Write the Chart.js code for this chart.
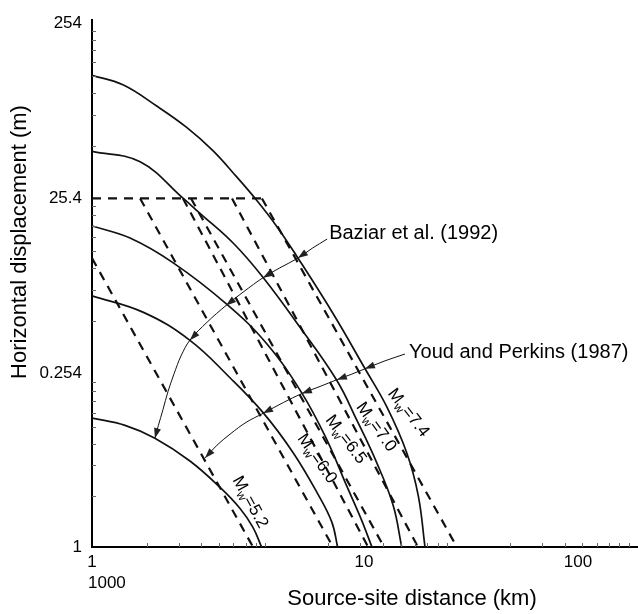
<!DOCTYPE html>
<html>
<head>
<meta charset="utf-8">
<script src="https://cdn.jsdelivr.net/npm/chart.js@4.4.0/dist/chart.umd.min.js"></script>
<style>
  html, body { margin: 0; padding: 0; background: #fff; }
</style>
</head>
<body>
<canvas id="chart" width="638" height="614"></canvas>
<script>
// axes: source-site distance (km), horizontal displacement (m), both log
const xMin = 1, xMax = 1000;
const yMin = 0.261, yMax = 264;
const xTickVals = [1, 31.4, 473];
const xTickLabels = ['1', '10', '100'];
const yTickVals = [0.261, 2.54, 25.4, 254];
const yTickLabels = ['1', '0.254', '25.4', '254'];

// Baziar et al. (1992) curves, one per magnitude
const mw74X = [1, 1.48, 2.27, 3.32, 4.63, 6.26, 8.06, 10.4, 13.4, 21.3, 31.8, 41.9, 54.0, 62.5, 68.1];
const mw74Y = [128, 113, 85.5, 64.6, 47.6, 33.7, 24.8, 17.6, 11.9, 5.57, 2.72, 1.65, 0.901, 0.513, 0.26];
const mw70X = [1, 1.84, 3.18, 3.93, 6.00, 8.77, 13.96, 22.2, 28.6, 36.9, 45.5, 50.7];
const mw70Y = [47.2, 41.1, 25.4, 20.9, 14.1, 8.97, 4.68, 2.34, 1.39, 0.791, 0.450, 0.26];
const mw65X = [1, 1.62, 2.80, 5.51, 9.16, 14.3, 19.6, 25.2, 30.2, 34.8];
const mw65Y = [17.7, 15.1, 10.9, 6.34, 3.77, 1.97, 1.07, 0.584, 0.380, 0.26];
const mw60X = [1, 1.92, 3.46, 5.75, 8.77, 12.8, 17.3, 20.9, 22.5];
const mw60Y = [7.07, 5.69, 3.94, 2.41, 1.52, 0.901, 0.535, 0.362, 0.26];
const mw52X = [1, 1.52, 2.22, 3.46, 5.07, 6.53, 7.69, 8.59];
const mw52Y = [1.42, 1.29, 1.09, 0.808, 0.571, 0.433, 0.338, 0.26];

// Youd and Perkins (1987) lines, capped at 25.4
const capX = [1, 8.62];
const capY = [25.4, 25.4];
const yp52X = [1, 7.7];
const yp52Y = [11.6, 0.261];
const ypX = [[1.84, 21.2], [3.17, 33.1], [3.51, 40.5], [5.90, 62.3], [8.62, 102]];
const ypY = [25.4, 0.261];

// leader arrows
const baziarArcX = [19.7, 16.3, 13.6, 10.8, 8.74, 6.86, 5.47, 4.30, 3.46, 3.09, 2.83, 2.62, 2.46, 2.32, 2.22];
const baziarArcY = [14.9, 13.2, 11.6, 10.2, 8.97, 7.48, 6.23, 5.00, 3.95, 3.21, 2.54, 2.01, 1.59, 1.29, 1.09];
const baziarHeads = [2, 4, 6, 8, 14];
const youdArcX = [52.8, 41.0, 31.8, 26.7, 22.3, 18.0, 14.3, 11.3, 8.74, 7.04, 5.82, 4.88, 4.19];
const youdArcY = [3.29, 3.01, 2.71, 2.52, 2.35, 2.15, 1.96, 1.74, 1.51, 1.34, 1.16, 0.995, 0.841];
const youdHeads = [2, 4, 6, 8, 12];

// labels
const mwNames = ['7.4', '7.0', '6.5', '6.0', '5.2'];
const mwLabelX = [55.1, 36.6, 24.9, 17.3, 7.41];
const mwLabelY = [1.52, 1.26, 1.07, 0.833, 0.470];
const mwAngles = [52, 54, 53, 55, 61];

const FONT = "'Liberation Sans', Arial, sans-serif";

const pts = (xs, ys) => xs.map((x, i) => ({ x, y: ys[i] }));

function solid(xs, ys) {
  return { data: pts(xs, ys), showLine: true, pointRadius: 0, borderColor: '#111',
    borderWidth: 1.7, tension: 0.4 };
}
function dashed(xs, ys) {
  return { data: pts(xs, ys), showLine: true, pointRadius: 0, borderColor: '#111',
    borderWidth: 2.2, borderDash: [9, 7], tension: 0 };
}
function arc(xs, ys) {
  return { data: pts(xs, ys), showLine: true, pointRadius: 0, borderColor: '#111',
    borderWidth: 1, tension: 0.35 };
}

const datasets = [
  solid(mw74X, mw74Y), solid(mw70X, mw70Y), solid(mw65X, mw65Y),
  solid(mw60X, mw60Y), solid(mw52X, mw52Y),
  dashed(capX, capY), dashed(yp52X, yp52Y),
  ...ypX.map(xs => dashed(xs, ypY)),
  arc(baziarArcX, baziarArcY), arc(youdArcX, youdArcY)
];

const decor = {
  id: 'decor',
  afterDatasetsDraw(chart) {
    const { ctx, chartArea: ca, scales: { x, y } } = chart;
    const px = v => x.getPixelForValue(v);
    const py = v => y.getPixelForValue(v);
    ctx.save();

    // minor ticks, inside the axes
    ctx.strokeStyle = '#666';
    ctx.lineWidth = 1;
    for (const d of [1, 10, 100]) {
      for (let k = 2; k <= 9; k++) {
        const X = Math.round(px(d * k)) + 0.5;
        ctx.beginPath(); ctx.moveTo(X, ca.bottom); ctx.lineTo(X, ca.bottom - 4); ctx.stroke();
      }
    }
    for (const d of [0.254, 2.54, 25.4]) {
      for (let k = 2; k <= 9; k++) {
        const Y = Math.round(py(d * k)) + 0.5;
        ctx.beginPath(); ctx.moveTo(ca.left, Y); ctx.lineTo(ca.left + 4, Y); ctx.stroke();
      }
    }

    // arrow heads
    ctx.fillStyle = '#222';
    function head(xs, ys, i) {
      const tx = px(xs[i]), ty = py(ys[i]);
      const fx = px(xs[i - 1]), fy = py(ys[i - 1]);
      const a = Math.atan2(ty - fy, tx - fx);
      const L = 10, W = 3.5;
      const bx = tx - L * Math.cos(a), by = ty - L * Math.sin(a);
      ctx.beginPath();
      ctx.moveTo(tx, ty);
      ctx.lineTo(bx + W * Math.sin(a), by - W * Math.cos(a));
      ctx.lineTo(bx - W * Math.sin(a), by + W * Math.cos(a));
      ctx.closePath();
      ctx.fill();
    }
    baziarHeads.forEach(i => head(baziarArcX, baziarArcY, i));
    youdHeads.forEach(i => head(youdArcX, youdArcY, i));

    // leader texts
    ctx.fillStyle = '#000';
    ctx.textBaseline = 'middle';
    ctx.textAlign = 'left';
    ctx.font = '20px ' + FONT;
    ctx.fillText('Baziar et al. (1992)', px(20.2), py(16.1));
    ctx.fillText('Youd and Perkins (1987)', px(55.6), py(3.38));

    // magnitude labels along the curves
    mwNames.forEach((name, i) => {
      ctx.save();
      ctx.translate(px(mwLabelX[i]), py(mwLabelY[i]));
      ctx.rotate(mwAngles[i] * Math.PI / 180);
      ctx.font = '17px ' + FONT;
      const wM = ctx.measureText('M').width;
      const wR = ctx.measureText('=' + name).width;
      ctx.font = '12px ' + FONT;
      const wW = ctx.measureText('w').width;
      const x0 = -(wM + wW + wR) / 2;
      ctx.font = '17px ' + FONT;
      ctx.fillText('M', x0, 0);
      ctx.font = '12px ' + FONT;
      ctx.fillText('w', x0 + wM, 5);
      ctx.font = '17px ' + FONT;
      ctx.fillText('=' + name, x0 + wM + wW, 0);
      ctx.restore();
    });

    // axis titles and stray label
    ctx.font = '17px ' + FONT;
    ctx.fillText('1000', 88, 583);
    ctx.font = '22px ' + FONT;
    ctx.textAlign = 'center';
    ctx.fillText('Source-site distance (km)', 412, 599);
    ctx.save();
    ctx.translate(20, 242);
    ctx.rotate(-Math.PI / 2);
    ctx.fillText('Horizontal displacement (m)', 0, 0);
    ctx.restore();

    ctx.restore();
  }
};

new Chart(document.getElementById('chart'), {
  type: 'scatter',
  data: { datasets },
  plugins: [decor],
  options: {
    responsive: false,
    animation: false,
    layout: { padding: { top: 15, right: 1, bottom: 0, left: 0 } },
    plugins: { legend: { display: false }, tooltip: { enabled: false } },
    scales: {
      x: {
        type: 'logarithmic', min: xMin, max: xMax, position: 'bottom',
        grid: { display: false, drawTicks: false },
        border: { display: true, color: '#000', width: 2 },
        afterBuildTicks: ax => { ax.ticks = xTickVals.map(v => ({ value: v })); },
        afterFit: s => { s.height = 67; },
        ticks: { autoSkip: false, maxRotation: 0, padding: 5, color: '#000',
          font: { family: FONT, size: 17 }, callback: (v, i) => xTickLabels[i] }
      },
      y: {
        type: 'logarithmic', min: yMin, max: yMax,
        grid: { display: false, drawTicks: false },
        border: { display: true, color: '#000', width: 2 },
        afterBuildTicks: ax => { ax.ticks = yTickVals.map(v => ({ value: v })); },
        afterFit: s => { s.width = 92; },
        ticks: { autoSkip: false, padding: 10, color: '#000',
          font: { family: FONT, size: 17 }, callback: (v, i) => yTickLabels[i] }
      }
    }
  }
});
</script>
</body>
</html>
